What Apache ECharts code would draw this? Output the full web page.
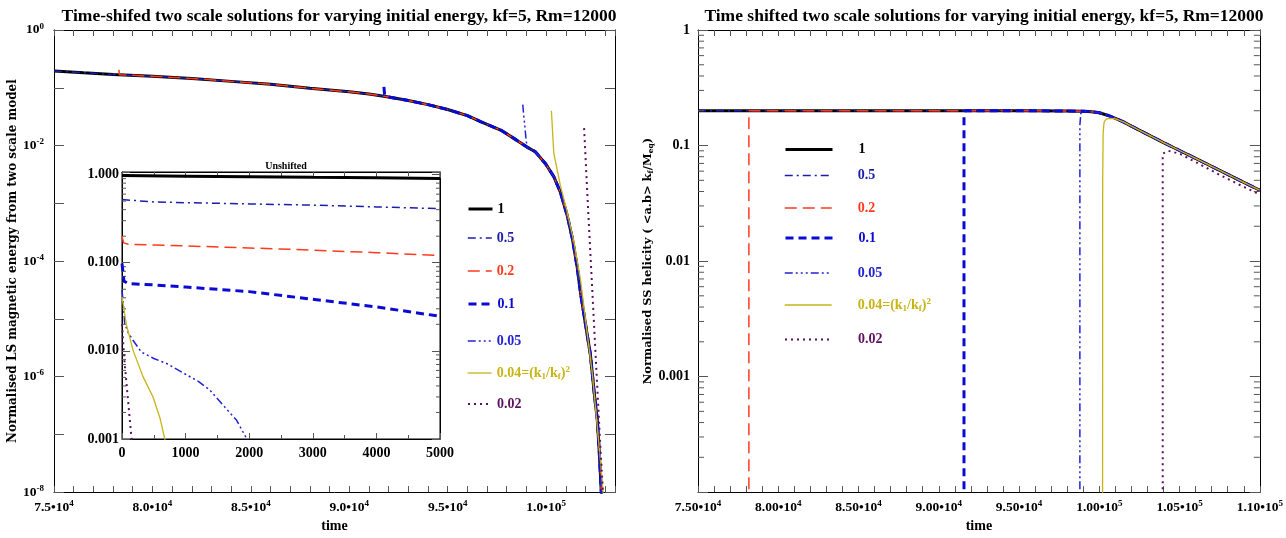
<!DOCTYPE html>
<html><head><meta charset="utf-8">
<script src="https://cdn.jsdelivr.net/npm/echarts@6/dist/echarts.min.js"></script>
<style>html,body{margin:0;padding:0;background:#fff}#c{width:1286px;height:538px}</style>
</head><body><div id="c"></div>
<script>
// ---------- DATA ----------
const legendLabels = ['1', '0.5', '0.2', '0.1', '0.05', '0.04=(k1/kf)2', '0.02'];
const titleLeft = 'Time-shifed two scale solutions for varying initial energy, kf=5, Rm=12000';
const titleRight = 'Time shifted two scale solutions for varying initial energy, kf=5, Rm=12000';
const titleInset = 'Unshifted';

// Left panel: time-shifted LS magnetic energy (common curve)
const lsTime = [75000, 76500, 78000, 80000, 82000, 84000, 86000, 88000, 90000, 91000, 92000, 93000, 94000, 95000, 96000, 96700, 97750, 98500, 99030, 99450, 99960, 100390, 100730, 101070, 101330, 101580, 101750, 102000, 102250, 102450, 102600, 102700, 102800, 102900];
const lsEnergy = [0.195, 0.182, 0.17, 0.158, 0.145, 0.129, 0.115, 0.098, 0.085, 0.078, 0.069, 0.060, 0.051, 0.042, 0.033, 0.0257, 0.0181, 0.0124, 0.0094, 0.0078, 0.0049, 0.0029, 0.00154, 6.2e-4, 2.5e-4, 7.8e-5, 2.8e-5, 8.1e-6, 2.4e-6, 5e-7, 1.8e-7, 5e-8, 1.05e-8, 3e-9];
const ls02Time = [78300, 78320];
const ls02Val = [0.205, 0.168];
const ls01Time = [91760, 91800];
const ls01Val = [0.104, 0.073];
const ls005Time = [98815, 98860, 98913, 98970, 99030];
const ls005Val = [0.051, 0.034, 0.023, 0.014, 0.0094];
const ls004Time = [100270, 100300, 100340, 100393, 100550, 100730, 101070, 101410, 101750, 102350, 102770, 102890, 102950];
const ls004Val = [0.040, 0.026, 0.0145, 0.0073, 0.004, 0.002, 7.1e-4, 2.2e-4, 4.7e-5, 1.1e-6, 3.3e-8, 1e-8, 4e-9];
const ls002Time = [101930, 102090, 102260, 102430, 102600, 102770, 102890, 102950];
const ls002Val = [0.02, 1.55e-3, 1.15e-4, 8.7e-6, 6.5e-7, 5e-8, 1e-8, 3e-9];

// Inset: unshifted
const in1Time = [0, 1000, 2000, 3000, 4000, 5000];
const in1Val = [0.975, 0.96, 0.945, 0.93, 0.92, 0.905];
const in05Time = [0, 30, 500, 1000, 2000, 3000, 4000, 5000];
const in05Val = [0.52, 0.5, 0.49, 0.48, 0.465, 0.45, 0.43, 0.41];
const in02Time = [0, 25, 100, 1000, 2000, 3000, 4000, 5000];
const in02Val = [0.2, 0.168, 0.162, 0.155, 0.147, 0.139, 0.13, 0.121];
const in01Time = [0, 30, 100, 500, 1000, 2000, 3000, 4000, 5000];
const in01Val = [0.098, 0.062, 0.058, 0.056, 0.053, 0.047, 0.0385, 0.0315, 0.0247];
const in005Time = [0, 20, 42, 100, 173, 304, 500, 698, 986, 1200, 1380, 1616, 1800, 1957, 2010];
const in005Val = [0.049, 0.035, 0.0204, 0.016, 0.0132, 0.0097, 0.0082, 0.0072, 0.0055, 0.0045, 0.0036, 0.0023, 0.00164, 0.00102, 0.0009];
const in004Time = [0, 30, 68, 173, 330, 488, 600, 672, 700];
const in004Val = [0.041, 0.03, 0.02, 0.0102, 0.0051, 0.003, 0.0017, 0.001, 0.0009];
const in002Time = [0, 20, 42, 94, 147, 160];
const in002Val = [0.02, 0.012, 0.0072, 0.0028, 0.00106, 0.0009];

// Right panel: normalised SS helicity (common curve)
const hTime = [75000, 80000, 85000, 90000, 95000, 98000, 99000, 99500, 100000, 100500, 101000, 101500, 102000, 103000, 104000, 105000, 106000, 107000, 108000, 109000, 110000];
const hVal = [0.2, 0.2, 0.2, 0.2, 0.2, 0.199, 0.198, 0.196, 0.192, 0.183, 0.172, 0.160, 0.147, 0.125, 0.106, 0.0906, 0.0773, 0.066, 0.0563, 0.048, 0.041];
const h02Time = [78170, 78170];
const h02Val = [1e-6, 0.2];
const h01Time = [91570, 91570, 91650];
const h01Val = [1e-6, 0.18, 0.2];
const h005Time = [98790, 98790, 98850, 99000];
const h005Val = [1e-6, 0.15, 0.19, 0.197];
const h004Time = [100200, 100210, 100240, 100300, 100450, 100700, 101000];
const h004Val = [1e-6, 0.05, 0.13, 0.16, 0.17, 0.172, 0.17];
const h002Time = [103950, 103950, 104300, 105000, 106250, 107470, 108700, 110000];
const h002Val = [1e-6, 0.085, 0.09, 0.085, 0.069, 0.056, 0.046, 0.0376];

// ---------- HELPERS ----------
const FONT = '"Liberation Serif", "DejaVu Serif", serif';
const NAMEFONT = '"DejaVu Serif", "Liberation Serif", serif';
const COLORS = ['#000000', '#1c1cb0', '#ff3a1e', '#0a0ad2', '#2222d6', '#c8b416', '#5e1060'];
const WIDTHS = [3, 1.5, 1.5, 3, 1.5, 1.3, 2];
const DASH = ['solid', [8, 4, 2, 4], [12, 6], [8, 5], [8, 3, 2, 3, 2, 3, 2, 3], 'solid', [2, 4]];

function pairs(t, v) { return t.map((x, i) => [x, v[i]]); }
function join(st, sv, mt, mv) {
  const out = pairs(st, sv);
  const last = st[st.length - 1];
  mt.forEach((x, i) => { if (x > last) out.push([x, mv[i]]); });
  return out;
}
function line(name, i, xi, yi, data, z) {
  return {
    name, type: 'line', xAxisIndex: xi, yAxisIndex: yi, data, symbol: 'none', showSymbol: false,
    smooth: false, clip: true, z: z || 2 + i * 0.1,
    lineStyle: { color: COLORS[i], width: WIDTHS[i], type: DASH[i] },
    itemStyle: { color: COLORS[i] }, emphasis: { disabled: true }
  };
}
function minorTicks(xi, yi, x0, lo, hi, len) {
  const vals = [];
  for (let e = lo; e < hi; e++) for (let m = 2; m <= 9; m++) vals.push([x0, m * Math.pow(10, e)]);
  return {
    type: 'custom', xAxisIndex: xi, yAxisIndex: yi, silent: true, data: vals, z: 5,
    renderItem: (params, api) => {
      const cs = params.coordSys;
      const y = api.coord([api.value(0), api.value(1)])[1];
      return {
        type: 'group', children: [
          { type: 'line', shape: { x1: cs.x, y1: y, x2: cs.x + len, y2: y }, style: { stroke: '#555', lineWidth: 1 } },
          { type: 'line', shape: { x1: cs.x + cs.width - len, y1: y, x2: cs.x + cs.width, y2: y }, style: { stroke: '#555', lineWidth: 1 } }
        ]
      };
    }
  };
}
const txt = (size, color, fam) => ({ fontFamily: fam || FONT, fontSize: size, fontWeight: 'bold', color: color || '#000' });
const supRich = {
  m: Object.assign(txt(13.5), { lineHeight: 16 }),
  e: Object.assign(txt(9), { lineHeight: 9, verticalAlign: 'top' })
};
function sciLabel(digits) {
  return v => {
    if (Math.abs(v % 5000) > 1e-6) return '';
    const e = Math.floor(Math.log10(v) + 1e-9);
    const m = (v / Math.pow(10, e)).toFixed(digits);
    return '{m|' + m + '•10}{e|' + e + '}';
  };
}
const isPow = v => Math.abs(Math.log10(v) - Math.round(Math.log10(v))) < 0.01;

function xAx(grid, min, max, interval, pos, labels, fmt, tickLen, minor, size) {
  return {
    type: 'value', gridIndex: grid, position: pos, min, max, interval,
    axisLine: { show: true, onZero: false, lineStyle: { color: '#000', width: 1 } },
    axisTick: { show: true, inside: true, length: tickLen, lineStyle: { color: '#555' } },
    minorTick: minor ? { show: true, splitNumber: minor, length: 4, lineStyle: { color: '#555' } } : { show: false },
    splitLine: { show: false },
    axisLabel: labels ? { show: true, formatter: fmt, margin: 7, rich: supRich, fontFamily: FONT, fontWeight: 'bold', fontSize: size || 13.5, color: '#000' } : { show: false }
  };
}
function yAx(grid, min, max, pos, labels, fmt, tickLen, rich, margin, size) {
  return {
    type: 'log', logBase: 10, gridIndex: grid, position: pos, min, max,
    axisLine: { show: true, onZero: false, lineStyle: { color: '#000', width: 1 } },
    axisTick: { show: true, inside: true, length: tickLen, lineStyle: { color: '#555' } },
    minorTick: { show: false },
    splitLine: { show: false },
    axisLabel: labels ? { show: true, formatter: fmt, margin: margin, rich: rich, fontFamily: FONT, fontWeight: 'bold', fontSize: size || 13.5, color: '#000' } : { show: false }
  };
}

// ---------- SERIES ----------
const series = [];
const leftData = [
  pairs(lsTime, lsEnergy),
  pairs(lsTime, lsEnergy),
  join(ls02Time, ls02Val, lsTime, lsEnergy),
  join(ls01Time, ls01Val, lsTime, lsEnergy),
  join(ls005Time, ls005Val, lsTime, lsEnergy),
  pairs(ls004Time, ls004Val),
  pairs(ls002Time, ls002Val)
];
leftData.forEach((d, i) => series.push(line('L' + i, i, 0, 0, d)));
const insetData = [
  pairs(in1Time, in1Val), pairs(in05Time, in05Val), pairs(in02Time, in02Val), pairs(in01Time, in01Val),
  pairs(in005Time, in005Val), pairs(in004Time, in004Val), pairs(in002Time, in002Val)
];
insetData.forEach((d, i) => series.push(line('L' + i, i, 2, 2, d, 6 + i * 0.1)));
series.push(minorTicks(2, 2, 0, -3, 0, 4));
const rightData = [
  pairs(hTime, hVal),
  pairs(hTime, hVal),
  join(h02Time, h02Val, hTime, hVal),
  join(h01Time, h01Val, hTime, hVal),
  join(h005Time, h005Val, hTime, hVal),
  join(h004Time, h004Val, hTime, hVal),
  pairs(h002Time, h002Val)
];
rightData.forEach((d, i) => series.push(line('R' + i, i, 4, 4, d)));
series.push(minorTicks(4, 4, 75000, -4, 0, 6));

// ---------- LEGENDS ----------
function legendLabel(i) {
  if (i === 5) return '{t|0.04=(k}{s|1}{t|/k}{s|f}{t|)}{p|2}';
  return '{t|' + legendLabels[i] + '}';
}
function mkLegend(prefix, i, left, cy, iw, pad) {
  const c = COLORS[i];
  return {
    data: [prefix + i], left, top: cy - 8, itemWidth: iw, itemHeight: 14, selectedMode: false,
    itemStyle: { opacity: 0 },
    lineStyle: { width: WIDTHS[i] },
    formatter: () => legendLabel(i),
    textStyle: {
      color: c, padding: [0, 0, 0, pad],
      rich: {
        t: Object.assign(txt(14, c), { lineHeight: 16 }),
        s: Object.assign(txt(9, c), { lineHeight: 8, verticalAlign: 'bottom' }),
        p: Object.assign(txt(9, c), { lineHeight: 8, verticalAlign: 'top' })
      }
    }
  };
}
const legL = [205, 234, 267, 300, 337, 368, 400];
const legR = [145.5, 171.5, 204, 234, 269, 300, 335.5];
const legends = [];
legL.forEach((cy, i) => legends.push(mkLegend('L', i, 462, cy, 24, 0)));
legR.forEach((cy, i) => legends.push(mkLegend('R', i, 779, cy, 47, 21)));

// ---------- OPTION ----------
const leftYFmt = v => {
  const e = Math.round(Math.log10(v));
  if (!isPow(v) || e % 2 !== 0) return '';
  return '{m|10}{e|' + e + '}';
};
const insetYFmt = v => isPow(v) ? v.toFixed(3) : '';
const rightYFmt = v => {
  if (!isPow(v)) return '';
  const e = Math.round(Math.log10(v));
  return ({ 0: '1', '-1': '0.1', '-2': '0.01', '-3': '0.001' })[e] || '';
};

const option = {
  animation: false,
  backgroundColor: '#fff',
  title: [
    { text: titleLeft, left: 334, top: 2, textAlign: 'center', textStyle: txt(17.5) },
    { text: titleRight, left: 979, top: 2, textAlign: 'center', textStyle: txt(17.5) },
    { text: titleInset, left: 281, top: 156, textAlign: 'center', textStyle: txt(10) }
  ],
  grid: [
    { left: 54, top: 30, width: 561, height: 474, show: false, containLabel: false },
    { left: 122, top: 172, width: 318, height: 267, show: true, backgroundColor: '#fff', borderColor: '#000', borderWidth: 1, containLabel: false },
    { left: 698, top: 30, width: 562, height: 474, show: false, containLabel: false }
  ],
  xAxis: [
    Object.assign(xAx(0, 75000, 103500, 1000, 'bottom', true, sciLabel(1), 6), {
      name: 'time', nameLocation: 'middle', nameGap: 26, nameTextStyle: txt(14)
    }),
    xAx(0, 75000, 103500, 1000, 'top', false, null, 6),
    xAx(1, 0, 5000, 1000, 'bottom', true, v => String(v), 6, 2, 14),
    xAx(1, 0, 5000, 1000, 'top', false, null, 6, 2),
    Object.assign(xAx(2, 75000, 110000, 1000, 'bottom', true, sciLabel(2), 6), {
      name: 'time', nameLocation: 'middle', nameGap: 26, nameTextStyle: txt(14)
    }),
    xAx(2, 75000, 110000, 1000, 'top', false, null, 6)
  ],
  yAxis: [
    Object.assign(yAx(0, 1e-8, 1, 'left', true, leftYFmt, 10, supRich, 10), {
      name: 'Normalised LS magnetic energy from two scale model', nameLocation: 'middle', nameGap: 31,
      nameRotate: 90, nameTextStyle: txt(12, '#000', NAMEFONT)
    }),
    yAx(0, 1e-8, 1, 'right', false, null, 10),
    yAx(1, 0.001, 1.07, 'left', true, insetYFmt, 8, null, 3, 14),
    yAx(1, 0.001, 1.07, 'right', false, null, 8),
    Object.assign(yAx(2, 1e-4, 1, 'left', true, rightYFmt, 10, null, 8, 14), {
      name: '{n|Normalised SS helicity ( <a.b> k}{s|f}{n|/M}{s|eq}{n|)}', nameLocation: 'middle', nameGap: 42,
      nameRotate: 90,
      nameTextStyle: Object.assign(txt(11.5, '#000', NAMEFONT), {
        rich: {
          n: Object.assign(txt(11.5, '#000', NAMEFONT), { lineHeight: 14 }),
          s: Object.assign(txt(7.5, '#000', NAMEFONT), { lineHeight: 7, verticalAlign: 'bottom' })
        }
      })
    }),
    yAx(2, 1e-4, 1, 'right', false, null, 10)
  ],
  legend: legends,
  series
};

const chart = echarts.init(document.getElementById('c'), null, { renderer: 'canvas' });
chart.setOption(option);
</script></body></html>
